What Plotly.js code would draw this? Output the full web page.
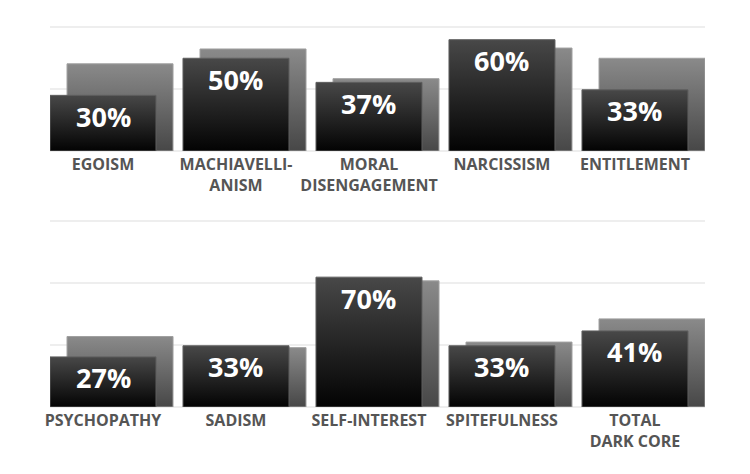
<!DOCTYPE html>
<html>
<head>
<meta charset="utf-8">
<script src="https://cdn.plot.ly/plotly-3.0.1.min.js"></script>
<style>html,body{margin:0;padding:0;background:#fff;}#chart{width:750px;height:474px;}</style>
</head>
<body>
<div id="chart"></div>
<script>
// ---- data ----
const categoriesTop = ['EGOISM', 'MACHIAVELLI-<br>ANISM', 'MORAL<br>DISENGAGEMENT', 'NARCISSISM', 'ENTITLEMENT'];
const frontTop = [30, 50, 37, 60, 33];
const backTop = [47, 55, 39, 55.5, 50];

const categoriesBottom = ['PSYCHOPATHY', 'SADISM', 'SELF-INTEREST', 'SPITEFULNESS', 'TOTAL<br>DARK CORE'];
const frontBottom = [27, 33, 70, 33, 41];
const backBottom = [38, 32, 68, 35, 47.5];

// ---- layout helpers ----
const W = 0.797, BOFF = 0.128, FC = W / 2;
const idx = categoriesTop.map((_, i) => i);
const FRONT = 'rgb(33, 33, 33)', BACK = 'rgb(101, 101, 101)';
const PXPER = 1.855;
const GRID = 62 / PXPER;

function pair(front, back, xa, ya) {
  return [
    {type: 'bar', x: idx, y: back, xaxis: xa, yaxis: ya, width: W, offset: BOFF,
     marker: {color: BACK, line: {color: 'rgb(160,160,160)', width: 1}}, hoverinfo: 'skip'},
    {type: 'bar', x: idx, y: front, xaxis: xa, yaxis: ya, width: W, offset: 0,
     marker: {color: FRONT, line: {color: 'rgb(95,95,95)', width: 1}}, hoverinfo: 'skip'}
  ];
}

const data = [].concat(pair(frontTop, backTop, 'x', 'y'), pair(frontBottom, backBottom, 'x2', 'y2'));

function labels(front, xr, yr) {
  return front.map((v, i) => ({
    xref: xr, yref: yr, x: i + FC, y: v, text: v + '%', showarrow: false,
    yanchor: 'middle', yshift: -21,
    font: {family: 'Open Sans', size: 27, color: '#ffffff', weight: 700}
  }));
}

const xCommon = {
  range: [0, 4.925], domain: [50 / 750, 705 / 750], showgrid: false, zeroline: false,
  showline: false, ticks: '', tickmode: 'array', tickvals: idx.map(i => i + FC), ticklabelstandoff: 2,
  tickfont: {family: 'Open Sans', size: 16, color: '#555555', weight: 700}, fixedrange: true
};
const yCommon = {
  showticklabels: false, tickmode: 'array', tickvals: [0, GRID, 2 * GRID, 3 * GRID],
  gridcolor: '#eeeeee', gridwidth: 2,
  zeroline: true, zerolinecolor: '#eeeeee', zerolinewidth: 2, showline: false, ticks: '', fixedrange: true
};

const layout = {
  width: 750, height: 474, margin: {l: 0, r: 0, t: 0, b: 0},
  paper_bgcolor: '#ffffff', plot_bgcolor: '#ffffff', showlegend: false, barmode: 'overlay',
  xaxis: Object.assign({}, xCommon, {anchor: 'y', ticktext: categoriesTop}),
  yaxis: Object.assign({}, yCommon, {domain: [323 / 474, 449 / 474], range: [0, 126 / PXPER]}),
  xaxis2: Object.assign({}, xCommon, {anchor: 'y2', ticktext: categoriesBottom}),
  yaxis2: Object.assign({}, yCommon, {domain: [67 / 474, 255 / 474], range: [0, 188 / PXPER]}),
  annotations: labels(frontTop, 'x', 'y').concat(labels(frontBottom, 'x2', 'y2'))
};

const gd = document.getElementById('chart');
Plotly.newPlot(gd, data, layout, {displayModeBar: false, staticPlot: true}).then(() => {
  const NS = 'http://www.w3.org/2000/svg';
  const svg = gd.querySelector('.main-svg');
  let defs = svg.querySelector('defs');
  if (!defs) { defs = document.createElementNS(NS, 'defs'); svg.insertBefore(defs, svg.firstChild); }
  function grad(id, top, bottom) {
    const g = document.createElementNS(NS, 'linearGradient');
    g.setAttribute('id', id); g.setAttribute('x1', '0'); g.setAttribute('y1', '0');
    g.setAttribute('x2', '0'); g.setAttribute('y2', '1');
    [[0, top], [1, bottom]].forEach(([o, c]) => {
      const s = document.createElementNS(NS, 'stop');
      s.setAttribute('offset', o); s.setAttribute('stop-color', c); g.appendChild(s);
    });
    defs.appendChild(g);
  }
  grad('gFront', '#484848', '#030303');
  grad('gBack', '#8a8a8a', '#474747');
  gd.querySelectorAll('.barlayer .point path').forEach(p => {
    const f = p.style.fill.replace(/\s/g, '');
    if (f === FRONT.replace(/\s/g, '')) p.style.fill = 'url(#gFront)';
    else if (f === BACK.replace(/\s/g, '')) p.style.fill = 'url(#gBack)';
  });
});
</script>
</body>
</html>
